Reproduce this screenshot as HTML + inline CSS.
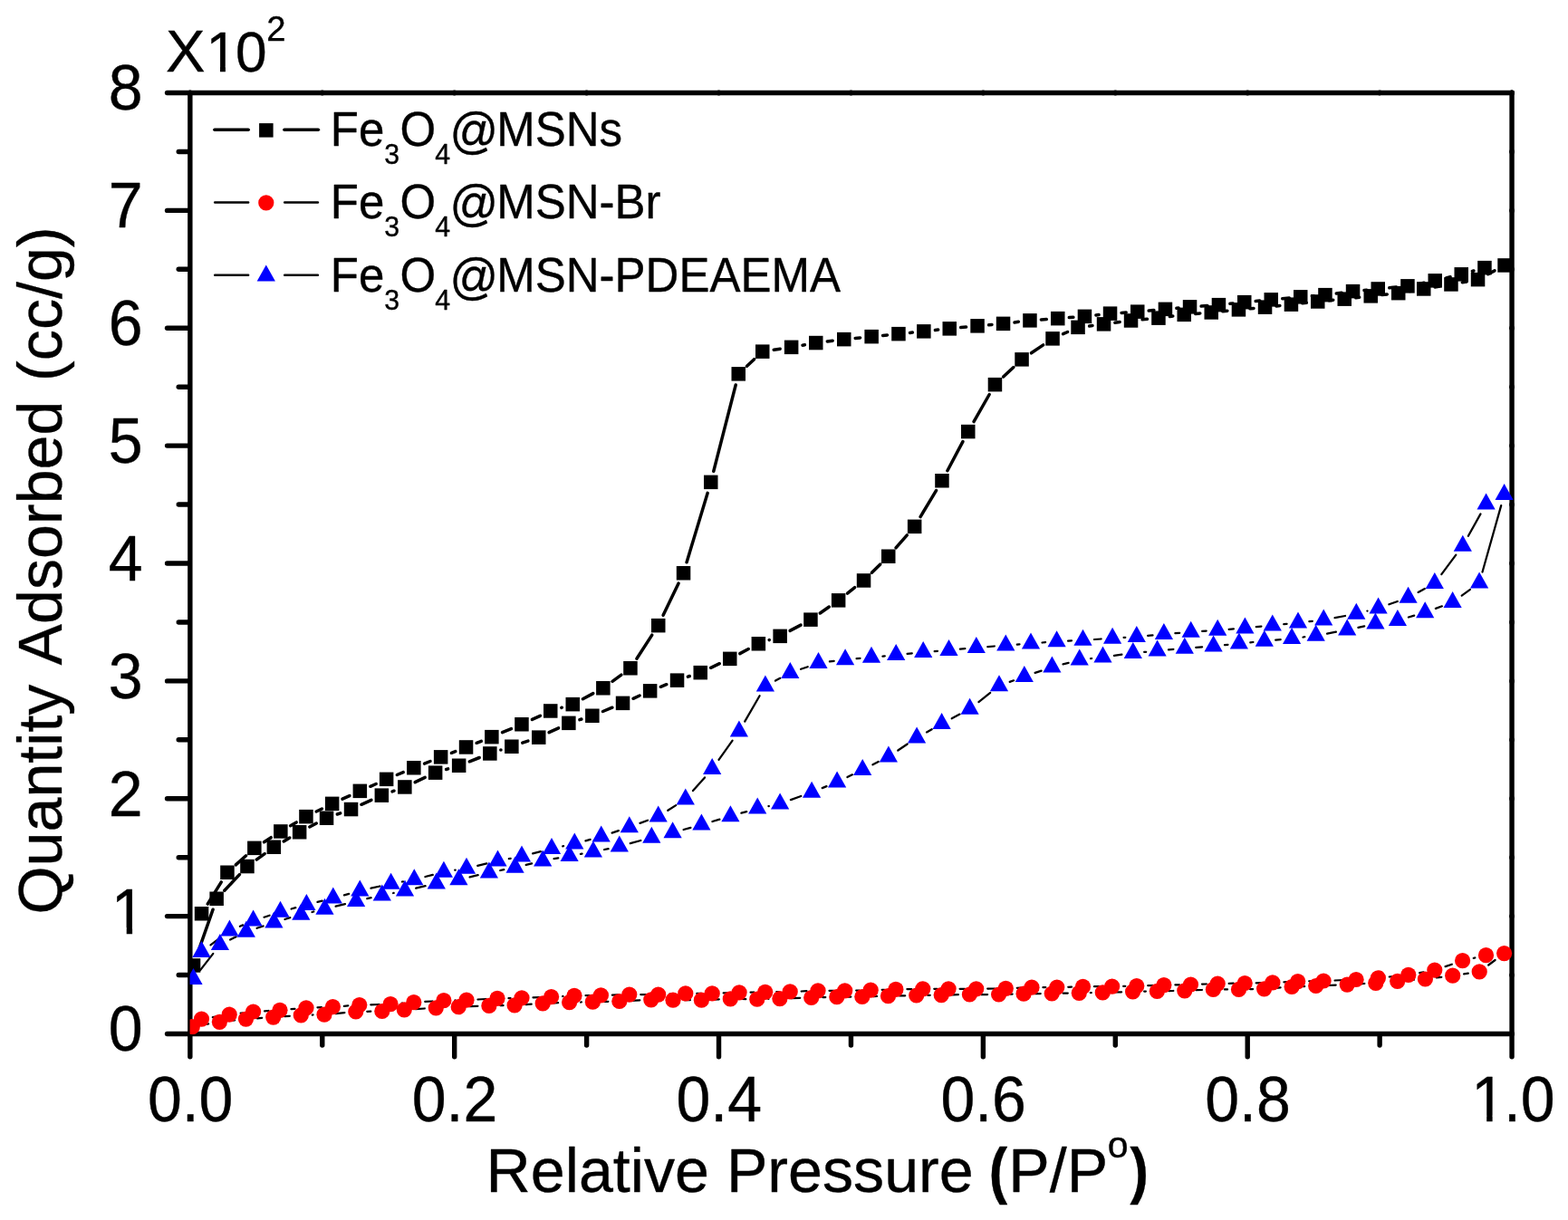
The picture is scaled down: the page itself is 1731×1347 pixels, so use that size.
<!DOCTYPE html>
<html lang="en"><head><meta charset="utf-8"><title>Nitrogen adsorption-desorption isotherms</title>
<style>html,body{margin:0;padding:0;background:#fff;}body{width:1731px;height:1347px;overflow:hidden;}svg{display:block;}text{font-family:"Liberation Sans", sans-serif;fill:#000;stroke:#000;stroke-width:0.35px;stroke-linejoin:round;}</style>
</head><body>
<svg width="1731" height="1347" viewBox="0 0 1731 1347">
<rect x="0" y="0" width="1731" height="1347" fill="#ffffff"/>
<g stroke="#000" stroke-width="5.40" fill="none" stroke-linecap="round">
<line x1="209.85" y1="102.50" x2="1669.05" y2="102.50"/>
<line x1="209.85" y1="1141.50" x2="1669.05" y2="1141.50"/>
<line x1="209.85" y1="102.50" x2="209.85" y2="1141.50"/>
<line x1="1669.05" y1="102.50" x2="1669.05" y2="1141.50"/>
<line x1="184.55" y1="1141.50" x2="208.85" y2="1141.50"/>
<line x1="197.25" y1="1076.56" x2="208.85" y2="1076.56"/>
<line x1="184.55" y1="1011.62" x2="208.85" y2="1011.62"/>
<line x1="197.25" y1="946.69" x2="208.85" y2="946.69"/>
<line x1="184.55" y1="881.75" x2="208.85" y2="881.75"/>
<line x1="197.25" y1="816.81" x2="208.85" y2="816.81"/>
<line x1="184.55" y1="751.88" x2="208.85" y2="751.88"/>
<line x1="197.25" y1="686.94" x2="208.85" y2="686.94"/>
<line x1="184.55" y1="622.00" x2="208.85" y2="622.00"/>
<line x1="197.25" y1="557.06" x2="208.85" y2="557.06"/>
<line x1="184.55" y1="492.12" x2="208.85" y2="492.12"/>
<line x1="197.25" y1="427.19" x2="208.85" y2="427.19"/>
<line x1="184.55" y1="362.25" x2="208.85" y2="362.25"/>
<line x1="197.25" y1="297.31" x2="208.85" y2="297.31"/>
<line x1="184.55" y1="232.38" x2="208.85" y2="232.38"/>
<line x1="197.25" y1="167.44" x2="208.85" y2="167.44"/>
<line x1="184.55" y1="102.50" x2="208.85" y2="102.50"/>
<line x1="209.85" y1="1142.50" x2="209.85" y2="1166.80"/>
<line x1="355.77" y1="1142.50" x2="355.77" y2="1154.10"/>
<line x1="501.69" y1="1142.50" x2="501.69" y2="1166.80"/>
<line x1="647.61" y1="1142.50" x2="647.61" y2="1154.10"/>
<line x1="793.53" y1="1142.50" x2="793.53" y2="1166.80"/>
<line x1="939.45" y1="1142.50" x2="939.45" y2="1154.10"/>
<line x1="1085.37" y1="1142.50" x2="1085.37" y2="1166.80"/>
<line x1="1231.29" y1="1142.50" x2="1231.29" y2="1154.10"/>
<line x1="1377.21" y1="1142.50" x2="1377.21" y2="1166.80"/>
<line x1="1523.13" y1="1142.50" x2="1523.13" y2="1154.10"/>
<line x1="1669.05" y1="1142.50" x2="1669.05" y2="1166.80"/>
</g>
<g fill="#000">
<circle cx="1669.05" cy="1141.50" r="2.90"/>
<circle cx="1669.05" cy="1076.56" r="2.90"/>
<circle cx="1669.05" cy="1011.62" r="2.90"/>
<circle cx="1669.05" cy="946.69" r="2.90"/>
<circle cx="1669.05" cy="881.75" r="2.90"/>
<circle cx="1669.05" cy="816.81" r="2.90"/>
<circle cx="1669.05" cy="751.88" r="2.90"/>
<circle cx="1669.05" cy="686.94" r="2.90"/>
<circle cx="1669.05" cy="622.00" r="2.90"/>
<circle cx="1669.05" cy="557.06" r="2.90"/>
<circle cx="1669.05" cy="492.12" r="2.90"/>
<circle cx="1669.05" cy="427.19" r="2.90"/>
<circle cx="1669.05" cy="362.25" r="2.90"/>
<circle cx="1669.05" cy="297.31" r="2.90"/>
<circle cx="1669.05" cy="232.38" r="2.90"/>
<circle cx="1669.05" cy="167.44" r="2.90"/>
<circle cx="1669.05" cy="102.50" r="2.90"/>
<circle cx="209.85" cy="102.50" r="2.90"/>
<circle cx="355.77" cy="102.50" r="2.90"/>
<circle cx="501.69" cy="102.50" r="2.90"/>
<circle cx="647.61" cy="102.50" r="2.90"/>
<circle cx="793.53" cy="102.50" r="2.90"/>
<circle cx="939.45" cy="102.50" r="2.90"/>
<circle cx="1085.37" cy="102.50" r="2.90"/>
<circle cx="1231.29" cy="102.50" r="2.90"/>
<circle cx="1377.21" cy="102.50" r="2.90"/>
<circle cx="1523.13" cy="102.50" r="2.90"/>
<circle cx="1669.05" cy="102.50" r="2.90"/>
</g>
<defs><clipPath id="plotclip"><rect x="209.60" y="100.00" width="1461.00" height="1042.30"/></clipPath></defs>
<g clip-path="url(#plotclip)">
<g stroke="#000" stroke-width="3.50" fill="none" stroke-linecap="round"><line x1="217.6" y1="1054.1" x2="235.1" y2="1004.2"/><line x1="247.8" y1="983.2" x2="264.4" y2="965.6"/><line x1="283.2" y1="949.1" x2="292.2" y2="942.6"/><line x1="313.2" y1="928.9" x2="319.8" y2="925.0"/><line x1="341.8" y1="913.0" x2="349.3" y2="909.0"/><line x1="372.3" y1="899.0" x2="375.7" y2="897.8"/><line x1="398.9" y1="888.3" x2="409.9" y2="883.3"/><line x1="433.1" y1="873.9" x2="435.0" y2="873.2"/><line x1="458.2" y1="863.7" x2="469.2" y2="858.4"/><line x1="492.6" y1="849.5" x2="494.6" y2="848.9"/><line x1="518.3" y1="840.8" x2="529.2" y2="836.5"/><line x1="552.8" y1="828.1" x2="553.0" y2="828.1"/><line x1="576.8" y1="820.2" x2="582.9" y2="818.1"/><line x1="606.1" y1="808.7" x2="616.6" y2="803.8"/><line x1="639.9" y1="794.7" x2="641.9" y2="794.0"/><line x1="665.5" y1="785.5" x2="675.9" y2="781.2"/><line x1="699.0" y1="771.3" x2="706.1" y2="768.0"/><line x1="729.3" y1="758.3" x2="735.8" y2="755.7"/><line x1="759.4" y1="747.2" x2="761.3" y2="746.5"/><line x1="784.6" y1="737.3" x2="794.3" y2="732.7"/><line x1="816.8" y1="721.6" x2="826.3" y2="716.5"/><line x1="849.2" y1="706.6" x2="849.3" y2="706.5"/><line x1="872.1" y1="696.4" x2="884.0" y2="690.1"/><line x1="905.3" y1="677.0" x2="915.3" y2="670.0"/><line x1="935.5" y1="655.2" x2="943.6" y2="648.7"/><line x1="962.4" y1="632.2" x2="971.8" y2="623.0"/><line x1="989.0" y1="604.8" x2="1001.3" y2="590.8"/><line x1="1016.1" y1="570.6" x2="1033.5" y2="541.6"/><line x1="1045.9" y1="519.7" x2="1062.9" y2="487.6"/><line x1="1075.0" y1="465.6" x2="1092.2" y2="435.5"/><line x1="1107.6" y1="416.0" x2="1118.9" y2="405.5"/><line x1="1138.5" y1="389.8" x2="1151.7" y2="380.9"/><line x1="1173.6" y1="368.7" x2="1178.6" y2="366.5"/><line x1="1202.6" y1="359.9" x2="1206.0" y2="359.4"/><line x1="1230.9" y1="356.3" x2="1236.2" y2="355.6"/><line x1="1261.1" y1="352.8" x2="1266.5" y2="352.3"/><line x1="1291.4" y1="349.5" x2="1294.8" y2="349.0"/><line x1="1319.7" y1="346.4" x2="1324.8" y2="346.0"/><line x1="1349.8" y1="343.7" x2="1354.9" y2="343.2"/><line x1="1379.9" y1="340.7" x2="1384.0" y2="340.4"/><line x1="1409.0" y1="337.9" x2="1412.9" y2="337.4"/><line x1="1437.9" y1="334.8" x2="1442.3" y2="334.3"/><line x1="1467.3" y1="331.8" x2="1471.8" y2="331.3"/><line x1="1496.8" y1="328.7" x2="1500.7" y2="328.3"/><line x1="1525.7" y1="325.6" x2="1531.3" y2="324.9"/><line x1="1556.2" y1="321.6" x2="1559.3" y2="321.0"/><line x1="1584.1" y1="317.0" x2="1589.6" y2="316.0"/><line x1="1614.3" y1="311.7" x2="1619.3" y2="310.9"/><line x1="1642.7" y1="302.7" x2="1650.0" y2="298.9"/><line x1="1626.9" y1="299.0" x2="1625.4" y2="299.5"/><line x1="1601.1" y1="305.8" x2="1596.5" y2="306.9"/><line x1="1572.0" y1="312.3" x2="1566.3" y2="313.5"/><line x1="1541.5" y1="317.1" x2="1533.8" y2="317.8"/><line x1="1508.8" y1="320.2" x2="1506.0" y2="320.5"/><line x1="1481.1" y1="323.3" x2="1475.3" y2="324.1"/><line x1="1450.4" y1="326.7" x2="1448.3" y2="326.8"/><line x1="1423.3" y1="329.0" x2="1415.7" y2="329.7"/><line x1="1390.7" y1="332.0" x2="1386.2" y2="332.5"/><line x1="1361.2" y1="335.0" x2="1357.9" y2="335.3"/><line x1="1332.9" y1="337.5" x2="1326.1" y2="338.0"/><line x1="1301.1" y1="339.9" x2="1298.9" y2="340.2"/><line x1="1273.9" y1="342.5" x2="1268.2" y2="343.0"/><line x1="1243.2" y1="345.0" x2="1238.1" y2="345.4"/><line x1="1213.1" y1="347.6" x2="1209.9" y2="347.9"/><line x1="1184.9" y1="350.3" x2="1180.3" y2="350.6"/><line x1="1155.3" y1="352.5" x2="1149.4" y2="352.9"/><line x1="1124.4" y1="355.3" x2="1120.0" y2="355.9"/><line x1="1095.0" y1="358.5" x2="1091.6" y2="358.8"/><line x1="1066.6" y1="361.1" x2="1060.7" y2="361.6"/><line x1="1035.7" y1="364.1" x2="1032.4" y2="364.5"/><line x1="1007.4" y1="367.1" x2="1004.5" y2="367.4"/><line x1="979.5" y1="370.0" x2="974.6" y2="370.4"/><line x1="949.6" y1="372.9" x2="944.2" y2="373.4"/><line x1="919.2" y1="376.2" x2="913.3" y2="376.9"/><line x1="888.4" y1="380.7" x2="886.0" y2="381.2"/><line x1="861.2" y1="385.2" x2="854.2" y2="386.3"/><line x1="832.6" y1="396.7" x2="824.5" y2="404.2"/><line x1="812.2" y1="425.0" x2="787.8" y2="520.2"/><line x1="781.1" y1="544.4" x2="758.1" y2="620.7"/><line x1="749.1" y1="644.0" x2="732.1" y2="679.3"/><line x1="719.8" y1="701.1" x2="702.9" y2="727.2"/><line x1="685.9" y1="745.1" x2="676.0" y2="752.3"/><line x1="654.8" y1="765.6" x2="643.4" y2="771.7"/><line x1="620.3" y1="781.2" x2="619.8" y2="781.4"/><line x1="596.4" y1="790.3" x2="587.4" y2="794.4"/><line x1="564.4" y1="804.6" x2="554.5" y2="808.7"/><line x1="531.3" y1="818.3" x2="526.1" y2="820.3"/><line x1="502.8" y1="829.6" x2="498.4" y2="831.3"/><line x1="475.0" y1="840.5" x2="468.5" y2="843.1"/><line x1="445.2" y1="852.6" x2="438.3" y2="855.5"/><line x1="415.2" y1="865.5" x2="408.8" y2="868.3"/><line x1="385.9" y1="878.6" x2="378.0" y2="882.2"/><line x1="355.4" y1="893.0" x2="349.2" y2="896.0"/><line x1="327.2" y1="907.9" x2="320.6" y2="911.7"/><line x1="299.2" y1="924.7" x2="291.5" y2="929.7"/><line x1="271.6" y1="944.8" x2="260.3" y2="954.9"/><line x1="244.3" y1="973.9" x2="229.2" y2="998.1"/></g>
<g fill="#000000"><rect x="205.8" y="1058.2" width="15.5" height="15.5"/><rect x="231.4" y="984.5" width="15.5" height="15.5"/><rect x="265.2" y="948.8" width="15.5" height="15.5"/><rect x="294.6" y="927.5" width="15.5" height="15.5"/><rect x="322.9" y="911.0" width="15.5" height="15.5"/><rect x="352.8" y="895.5" width="15.5" height="15.5"/><rect x="379.8" y="885.8" width="15.5" height="15.5"/><rect x="413.6" y="870.4" width="15.5" height="15.5"/><rect x="439.1" y="861.2" width="15.5" height="15.5"/><rect x="472.9" y="845.4" width="15.5" height="15.5"/><rect x="498.9" y="837.5" width="15.5" height="15.5"/><rect x="533.1" y="824.2" width="15.5" height="15.5"/><rect x="557.1" y="816.5" width="15.5" height="15.5"/><rect x="587.0" y="806.4" width="15.5" height="15.5"/><rect x="620.1" y="790.6" width="15.5" height="15.5"/><rect x="646.1" y="782.5" width="15.5" height="15.5"/><rect x="679.8" y="768.6" width="15.5" height="15.5"/><rect x="709.9" y="755.1" width="15.5" height="15.5"/><rect x="739.8" y="743.4" width="15.5" height="15.5"/><rect x="765.5" y="734.9" width="15.5" height="15.5"/><rect x="798.0" y="719.6" width="15.5" height="15.5"/><rect x="829.6" y="703.0" width="15.5" height="15.5"/><rect x="853.4" y="694.6" width="15.5" height="15.5"/><rect x="887.2" y="676.4" width="15.5" height="15.5"/><rect x="917.9" y="655.1" width="15.5" height="15.5"/><rect x="945.8" y="633.2" width="15.5" height="15.5"/><rect x="973.0" y="606.5" width="15.5" height="15.5"/><rect x="1001.9" y="573.6" width="15.5" height="15.5"/><rect x="1032.2" y="523.0" width="15.5" height="15.5"/><rect x="1061.0" y="468.8" width="15.5" height="15.5"/><rect x="1090.7" y="416.9" width="15.5" height="15.5"/><rect x="1120.3" y="389.1" width="15.5" height="15.5"/><rect x="1154.3" y="366.1" width="15.5" height="15.5"/><rect x="1182.3" y="353.6" width="15.5" height="15.5"/><rect x="1210.8" y="350.1" width="15.5" height="15.5"/><rect x="1240.8" y="346.2" width="15.5" height="15.5"/><rect x="1271.2" y="343.4" width="15.5" height="15.5"/><rect x="1299.5" y="339.6" width="15.5" height="15.5"/><rect x="1329.5" y="337.2" width="15.5" height="15.5"/><rect x="1359.7" y="334.1" width="15.5" height="15.5"/><rect x="1388.8" y="331.4" width="15.5" height="15.5"/><rect x="1417.7" y="328.4" width="15.5" height="15.5"/><rect x="1447.0" y="325.2" width="15.5" height="15.5"/><rect x="1476.5" y="322.4" width="15.5" height="15.5"/><rect x="1505.5" y="319.1" width="15.5" height="15.5"/><rect x="1536.0" y="315.9" width="15.5" height="15.5"/><rect x="1564.0" y="311.2" width="15.5" height="15.5"/><rect x="1594.2" y="306.2" width="15.5" height="15.5"/><rect x="1623.8" y="300.9" width="15.5" height="15.5"/><rect x="1653.3" y="285.2" width="15.5" height="15.5"/><rect x="1631.2" y="287.9" width="15.5" height="15.5"/><rect x="1605.5" y="295.1" width="15.5" height="15.5"/><rect x="1576.5" y="302.1" width="15.5" height="15.5"/><rect x="1546.2" y="308.1" width="15.5" height="15.5"/><rect x="1513.5" y="311.2" width="15.5" height="15.5"/><rect x="1485.8" y="313.9" width="15.5" height="15.5"/><rect x="1455.2" y="317.9" width="15.5" height="15.5"/><rect x="1428.0" y="320.1" width="15.5" height="15.5"/><rect x="1395.5" y="323.1" width="15.5" height="15.5"/><rect x="1366.0" y="325.9" width="15.5" height="15.5"/><rect x="1337.7" y="328.9" width="15.5" height="15.5"/><rect x="1305.8" y="331.1" width="15.5" height="15.5"/><rect x="1278.7" y="333.6" width="15.5" height="15.5"/><rect x="1248.0" y="336.4" width="15.5" height="15.5"/><rect x="1217.8" y="338.4" width="15.5" height="15.5"/><rect x="1189.7" y="341.6" width="15.5" height="15.5"/><rect x="1160.0" y="343.9" width="15.5" height="15.5"/><rect x="1129.2" y="346.1" width="15.5" height="15.5"/><rect x="1099.8" y="349.6" width="15.5" height="15.5"/><rect x="1071.3" y="352.1" width="15.5" height="15.5"/><rect x="1040.5" y="355.1" width="15.5" height="15.5"/><rect x="1012.1" y="358.1" width="15.5" height="15.5"/><rect x="984.2" y="360.9" width="15.5" height="15.5"/><rect x="954.4" y="363.9" width="15.5" height="15.5"/><rect x="924.0" y="366.9" width="15.5" height="15.5"/><rect x="893.0" y="370.8" width="15.5" height="15.5"/><rect x="865.9" y="375.6" width="15.5" height="15.5"/><rect x="834.0" y="380.4" width="15.5" height="15.5"/><rect x="807.5" y="405.1" width="15.5" height="15.5"/><rect x="777.0" y="524.6" width="15.5" height="15.5"/><rect x="746.8" y="625.0" width="15.5" height="15.5"/><rect x="719.0" y="682.9" width="15.5" height="15.5"/><rect x="688.2" y="730.0" width="15.5" height="15.5"/><rect x="658.1" y="752.0" width="15.5" height="15.5"/><rect x="624.5" y="769.9" width="15.5" height="15.5"/><rect x="600.0" y="777.2" width="15.5" height="15.5"/><rect x="568.2" y="792.0" width="15.5" height="15.5"/><rect x="535.1" y="805.9" width="15.5" height="15.5"/><rect x="506.8" y="817.2" width="15.5" height="15.5"/><rect x="478.9" y="828.1" width="15.5" height="15.5"/><rect x="449.1" y="840.0" width="15.5" height="15.5"/><rect x="418.9" y="852.6" width="15.5" height="15.5"/><rect x="389.6" y="865.6" width="15.5" height="15.5"/><rect x="358.9" y="879.6" width="15.5" height="15.5"/><rect x="330.2" y="893.9" width="15.5" height="15.5"/><rect x="302.1" y="910.2" width="15.5" height="15.5"/><rect x="273.1" y="928.6" width="15.5" height="15.5"/><rect x="243.2" y="955.5" width="15.5" height="15.5"/><rect x="214.8" y="1001.0" width="15.5" height="15.5"/></g>
<g stroke="#000" stroke-width="2.25" fill="none" stroke-linecap="round"><line x1="221.1" y1="1071.1" x2="235.3" y2="1052.9"/><line x1="254.1" y1="1037.5" x2="260.6" y2="1034.3"/><line x1="283.6" y1="1024.8" x2="290.6" y2="1022.5"/><line x1="314.4" y1="1015.0" x2="320.3" y2="1013.2"/><line x1="344.5" y1="1007.0" x2="346.3" y2="1006.5"/><line x1="370.6" y1="1000.7" x2="381.0" y2="998.1"/><line x1="405.3" y1="992.2" x2="409.6" y2="991.2"/><line x1="434.1" y1="986.0" x2="434.7" y2="985.9"/><line x1="459.2" y1="980.7" x2="469.6" y2="978.2"/><line x1="518.6" y1="968.4" x2="527.7" y2="966.2"/><line x1="552.2" y1="961.0" x2="556.3" y2="960.2"/><line x1="580.7" y1="954.9" x2="587.1" y2="953.3"/><line x1="611.5" y1="948.1" x2="616.3" y2="947.3"/><line x1="640.9" y1="942.9" x2="642.6" y2="942.7"/><line x1="667.1" y1="938.0" x2="671.6" y2="937.1"/><line x1="695.8" y1="931.2" x2="707.3" y2="928.0"/><line x1="754.6" y1="916.0" x2="762.4" y2="913.8"/><line x1="786.4" y1="907.0" x2="794.4" y2="904.7"/><line x1="818.4" y1="897.7" x2="824.2" y2="896.1"/><line x1="848.4" y1="890.0" x2="848.9" y2="890.0"/><line x1="872.9" y1="883.1" x2="884.3" y2="879.0"/><line x1="907.7" y1="870.1" x2="912.5" y2="868.1"/><line x1="935.4" y1="858.1" x2="940.9" y2="855.3"/><line x1="963.4" y1="844.3" x2="969.7" y2="841.0"/><line x1="991.3" y1="828.5" x2="1001.7" y2="821.5"/><line x1="1023.0" y1="808.4" x2="1028.7" y2="805.2"/><line x1="1050.7" y1="793.2" x2="1059.5" y2="788.6"/><line x1="1080.4" y1="775.1" x2="1093.2" y2="764.9"/><line x1="1114.7" y1="752.9" x2="1119.1" y2="751.3"/><line x1="1142.6" y1="742.9" x2="1149.6" y2="740.6"/><line x1="1173.5" y1="733.3" x2="1179.6" y2="731.8"/><line x1="1204.1" y1="727.1" x2="1205.1" y2="727.0"/><line x1="1229.9" y1="723.9" x2="1238.4" y2="722.7"/><line x1="1263.2" y1="719.9" x2="1265.2" y2="719.8"/><line x1="1290.0" y1="717.4" x2="1295.4" y2="716.9"/><line x1="1320.3" y1="714.9" x2="1327.1" y2="714.4"/><line x1="1352.0" y1="712.2" x2="1355.5" y2="711.9"/><line x1="1380.3" y1="709.3" x2="1383.4" y2="709.0"/><line x1="1408.2" y1="706.6" x2="1413.7" y2="706.1"/><line x1="1438.5" y1="703.5" x2="1440.3" y2="703.2"/><line x1="1465.0" y1="699.6" x2="1474.9" y2="697.7"/><line x1="1499.4" y1="692.8" x2="1506.2" y2="691.3"/><line x1="1554.9" y1="681.5" x2="1561.2" y2="679.6"/><line x1="1584.9" y1="671.9" x2="1591.9" y2="669.3"/><line x1="1613.7" y1="657.6" x2="1623.0" y2="650.9"/><line x1="1636.5" y1="631.5" x2="1657.2" y2="558.1"/><line x1="1634.5" y1="567.4" x2="1620.9" y2="591.8"/><line x1="1607.3" y1="612.7" x2="1591.3" y2="634.1"/><line x1="1572.8" y1="650.0" x2="1565.6" y2="653.9"/><line x1="1542.8" y1="664.0" x2="1533.4" y2="667.3"/><line x1="1509.5" y1="674.6" x2="1509.4" y2="674.6"/><line x1="1485.0" y1="680.0" x2="1473.5" y2="682.1"/><line x1="1448.8" y1="685.8" x2="1445.4" y2="686.1"/><line x1="1420.6" y1="688.8" x2="1417.2" y2="689.2"/><line x1="1392.4" y1="691.7" x2="1386.8" y2="692.2"/><line x1="1361.9" y1="694.3" x2="1356.7" y2="694.8"/><line x1="1331.7" y1="696.6" x2="1327.2" y2="696.9"/><line x1="1302.2" y1="698.8" x2="1297.4" y2="699.1"/><line x1="1272.5" y1="701.3" x2="1267.2" y2="701.8"/><line x1="1242.3" y1="703.8" x2="1240.6" y2="703.9"/><line x1="1215.6" y1="705.5" x2="1208.0" y2="706.0"/><line x1="1183.0" y1="707.4" x2="1179.1" y2="707.6"/><line x1="1154.1" y1="709.2" x2="1150.5" y2="709.5"/><line x1="1125.5" y1="711.4" x2="1122.8" y2="711.7"/><line x1="1097.8" y1="713.5" x2="1090.3" y2="714.1"/><line x1="1065.4" y1="716.2" x2="1059.9" y2="716.7"/><line x1="1035.0" y1="718.8" x2="1031.7" y2="719.1"/><line x1="1006.8" y1="721.3" x2="1001.6" y2="721.8"/><line x1="976.8" y1="724.3" x2="974.4" y2="724.6"/><line x1="949.5" y1="726.9" x2="945.6" y2="727.2"/><line x1="920.7" y1="729.9" x2="915.9" y2="730.4"/><line x1="891.7" y1="736.2" x2="884.1" y2="738.8"/><line x1="861.2" y1="748.8" x2="856.0" y2="751.6"/><line x1="838.6" y1="768.2" x2="822.2" y2="796.6"/><line x1="808.6" y1="817.6" x2="793.5" y2="838.8"/><line x1="778.0" y1="858.4" x2="765.0" y2="873.1"/><line x1="746.2" y1="889.1" x2="737.3" y2="894.8"/><line x1="715.0" y1="905.7" x2="706.5" y2="908.9"/><line x1="682.9" y1="917.1" x2="675.6" y2="919.6"/><line x1="651.6" y1="926.8" x2="646.4" y2="928.3"/><line x1="622.1" y1="934.2" x2="621.2" y2="934.3"/><line x1="596.9" y1="940.1" x2="588.1" y2="942.3"/><line x1="563.7" y1="947.8" x2="561.8" y2="948.1"/><line x1="537.3" y1="953.3" x2="527.2" y2="955.8"/><line x1="502.7" y1="960.7" x2="502.2" y2="960.7"/><line x1="477.8" y1="965.9" x2="469.4" y2="968.0"/><line x1="445.0" y1="973.4" x2="443.9" y2="973.5"/><line x1="419.4" y1="978.5" x2="409.5" y2="980.7"/><line x1="385.2" y1="986.8" x2="379.9" y2="988.3"/><line x1="355.7" y1="994.6" x2="350.5" y2="995.9"/><line x1="326.3" y1="1002.2" x2="321.6" y2="1003.5"/><line x1="297.6" y1="1010.7" x2="291.5" y2="1012.7"/><line x1="268.1" y1="1021.4" x2="264.9" y2="1022.8"/><line x1="243.4" y1="1035.1" x2="232.5" y2="1043.4"/></g>
<g fill="#0000ff"><polygon points="213.5,1069.0 203.4,1087.0 223.6,1087.0"/><polygon points="242.9,1031.0 232.8,1049.0 253.0,1049.0"/><polygon points="271.8,1016.8 261.7,1034.8 281.9,1034.8"/><polygon points="302.4,1006.5 292.3,1024.5 312.5,1024.5"/><polygon points="332.3,997.7 322.2,1015.7 342.4,1015.7"/><polygon points="358.5,991.8 348.4,1009.8 368.6,1009.8"/><polygon points="393.1,983.0 383.0,1001.0 403.2,1001.0"/><polygon points="421.8,976.4 411.7,994.4 431.9,994.4"/><polygon points="447.0,971.5 436.9,989.5 457.1,989.5"/><polygon points="481.8,963.4 471.7,981.4 491.9,981.4"/><polygon points="506.4,959.2 496.3,977.2 516.5,977.2"/><polygon points="539.9,951.4 529.8,969.4 550.0,969.4"/><polygon points="568.6,945.8 558.5,963.8 578.7,963.8"/><polygon points="599.2,938.4 589.1,956.4 609.3,956.4"/><polygon points="628.6,933.0 618.5,951.0 638.7,951.0"/><polygon points="654.9,928.6 644.8,946.6 665.0,946.6"/><polygon points="683.8,922.5 673.7,940.5 693.9,940.5"/><polygon points="719.3,912.7 709.2,930.7 729.4,930.7"/><polygon points="742.6,907.3 732.5,925.3 752.7,925.3"/><polygon points="774.4,898.5 764.3,916.5 784.5,916.5"/><polygon points="806.4,889.2 796.3,907.2 816.5,907.2"/><polygon points="836.2,880.6 826.1,898.6 846.3,898.6"/><polygon points="861.1,875.4 851.0,893.4 871.2,893.4"/><polygon points="896.1,862.7 886.0,880.7 906.2,880.7"/><polygon points="924.1,851.5 914.0,869.5 934.2,869.5"/><polygon points="952.2,837.9 942.1,855.9 962.3,855.9"/><polygon points="980.9,823.4 970.8,841.4 991.0,841.4"/><polygon points="1012.1,802.6 1002.0,820.6 1022.2,820.6"/><polygon points="1039.6,787.0 1029.5,805.0 1049.7,805.0"/><polygon points="1070.6,770.8 1060.5,788.8 1080.7,788.8"/><polygon points="1103.0,745.2 1092.9,763.2 1113.1,763.2"/><polygon points="1130.8,735.0 1120.7,753.0 1140.9,753.0"/><polygon points="1161.4,724.5 1151.3,742.5 1171.5,742.5"/><polygon points="1191.7,716.6 1181.6,734.6 1201.8,734.6"/><polygon points="1217.5,713.5 1207.4,731.5 1227.6,731.5"/><polygon points="1250.8,709.1 1240.7,727.1 1260.9,727.1"/><polygon points="1277.6,706.6 1267.5,724.6 1287.7,724.6"/><polygon points="1307.8,703.7 1297.7,721.7 1317.9,721.7"/><polygon points="1339.6,701.6 1329.5,719.6 1349.7,719.6"/><polygon points="1367.9,698.5 1357.8,716.5 1378.0,716.5"/><polygon points="1395.8,695.8 1385.7,713.8 1405.9,713.8"/><polygon points="1426.1,692.9 1416.0,710.9 1436.2,710.9"/><polygon points="1452.7,689.8 1442.6,707.8 1462.8,707.8"/><polygon points="1487.2,683.5 1477.1,701.5 1497.3,701.5"/><polygon points="1518.4,676.6 1508.3,694.6 1528.5,694.6"/><polygon points="1542.9,672.9 1532.8,690.9 1553.0,690.9"/><polygon points="1573.2,664.2 1563.1,682.2 1583.3,682.2"/><polygon points="1603.6,653.0 1593.5,671.0 1613.7,671.0"/><polygon points="1633.1,631.5 1623.0,649.5 1643.2,649.5"/><polygon points="1660.6,534.1 1650.5,552.1 1670.7,552.1"/><polygon points="1640.6,544.5 1630.5,562.5 1650.7,562.5"/><polygon points="1614.8,590.7 1604.7,608.7 1624.9,608.7"/><polygon points="1583.8,632.1 1573.7,650.1 1593.9,650.1"/><polygon points="1554.6,647.8 1544.5,665.8 1564.7,665.8"/><polygon points="1521.6,659.5 1511.5,677.5 1531.7,677.5"/><polygon points="1497.3,665.7 1487.2,683.7 1507.4,683.7"/><polygon points="1461.2,672.4 1451.1,690.4 1471.3,690.4"/><polygon points="1433.0,675.5 1422.9,693.5 1443.1,693.5"/><polygon points="1404.8,678.5 1394.7,696.5 1414.9,696.5"/><polygon points="1374.4,681.4 1364.3,699.4 1384.5,699.4"/><polygon points="1344.2,683.7 1334.1,701.7 1354.3,701.7"/><polygon points="1314.7,685.8 1304.6,703.8 1324.8,703.8"/><polygon points="1284.9,688.1 1274.8,706.1 1295.0,706.1"/><polygon points="1254.8,691.0 1244.7,709.0 1264.9,709.0"/><polygon points="1228.1,692.7 1218.0,710.7 1238.2,710.7"/><polygon points="1195.5,694.8 1185.4,712.8 1205.6,712.8"/><polygon points="1166.6,696.2 1156.5,714.2 1176.7,714.2"/><polygon points="1138.0,698.5 1127.9,716.5 1148.1,716.5"/><polygon points="1110.3,700.6 1100.2,718.6 1120.4,718.6"/><polygon points="1077.8,703.0 1067.7,721.0 1087.9,721.0"/><polygon points="1047.5,705.9 1037.4,723.9 1057.6,723.9"/><polygon points="1019.2,708.0 1009.1,726.0 1029.3,726.0"/><polygon points="989.2,711.1 979.1,729.1 999.3,729.1"/><polygon points="962.0,713.8 951.9,731.8 972.1,731.8"/><polygon points="933.1,716.3 923.0,734.3 943.2,734.3"/><polygon points="903.5,720.0 893.4,738.0 913.6,738.0"/><polygon points="872.3,731.0 862.2,749.0 882.4,749.0"/><polygon points="844.9,745.4 834.8,763.4 855.0,763.4"/><polygon points="815.9,795.4 805.8,813.4 826.0,813.4"/><polygon points="786.2,837.0 776.1,855.0 796.3,855.0"/><polygon points="756.8,870.5 746.7,888.5 766.9,888.5"/><polygon points="726.7,889.4 716.6,907.4 736.8,907.4"/><polygon points="694.8,901.2 684.7,919.2 704.9,919.2"/><polygon points="663.7,911.5 653.6,929.5 673.8,929.5"/><polygon points="634.3,919.6 624.2,937.6 644.4,937.6"/><polygon points="609.0,924.9 598.9,942.9 619.1,942.9"/><polygon points="576.0,933.5 565.9,951.5 586.1,951.5"/><polygon points="549.5,938.4 539.4,956.4 559.6,956.4"/><polygon points="515.0,946.7 504.9,964.7 525.1,964.7"/><polygon points="489.9,950.7 479.8,968.7 500.0,968.7"/><polygon points="457.3,959.2 447.2,977.2 467.4,977.2"/><polygon points="431.6,963.7 421.5,981.7 441.7,981.7"/><polygon points="397.3,971.5 387.2,989.5 407.4,989.5"/><polygon points="367.8,979.6 357.7,997.6 377.9,997.6"/><polygon points="338.4,986.9 328.3,1004.9 348.5,1004.9"/><polygon points="309.5,994.8 299.4,1012.8 319.6,1012.8"/><polygon points="279.6,1004.6 269.5,1022.6 289.7,1022.6"/><polygon points="253.4,1015.6 243.3,1033.6 263.5,1033.6"/><polygon points="222.5,1038.9 212.4,1056.9 232.6,1056.9"/></g>
<g stroke="#000" stroke-width="2.25" fill="none" stroke-linecap="round"><line x1="224.6" y1="1131.4" x2="230.1" y2="1130.5"/><line x1="254.8" y1="1126.9" x2="259.1" y2="1126.5"/><line x1="284.0" y1="1124.3" x2="289.2" y2="1123.9"/><line x1="314.2" y1="1122.2" x2="319.8" y2="1121.8"/><line x1="344.8" y1="1120.6" x2="345.5" y2="1120.5"/><line x1="370.4" y1="1119.1" x2="380.4" y2="1118.1"/><line x1="405.3" y1="1116.8" x2="409.3" y2="1116.7"/><line x1="458.8" y1="1114.1" x2="468.8" y2="1113.5"/><line x1="518.7" y1="1111.2" x2="527.4" y2="1110.9"/><line x1="552.4" y1="1110.2" x2="555.6" y2="1110.1"/><line x1="580.6" y1="1109.1" x2="586.7" y2="1108.7"/><line x1="611.7" y1="1107.4" x2="616.1" y2="1107.2"/><line x1="641.1" y1="1106.5" x2="641.9" y2="1106.4"/><line x1="666.9" y1="1105.9" x2="671.3" y2="1105.8"/><line x1="696.3" y1="1104.9" x2="706.3" y2="1104.4"/><line x1="755.5" y1="1104.2" x2="761.9" y2="1104.2"/><line x1="786.9" y1="1103.7" x2="793.8" y2="1103.4"/><line x1="818.8" y1="1103.0" x2="823.3" y2="1103.1"/><line x1="848.3" y1="1102.9" x2="848.4" y2="1102.9"/><line x1="873.4" y1="1102.2" x2="883.2" y2="1101.9"/><line x1="908.2" y1="1101.1" x2="911.3" y2="1101.1"/><line x1="936.3" y1="1100.6" x2="939.3" y2="1100.6"/><line x1="964.3" y1="1100.2" x2="968.0" y2="1100.0"/><line x1="993.0" y1="1099.4" x2="999.2" y2="1099.3"/><line x1="1024.2" y1="1098.8" x2="1026.7" y2="1098.8"/><line x1="1051.7" y1="1098.4" x2="1057.9" y2="1098.2"/><line x1="1082.9" y1="1098.0" x2="1090.1" y2="1098.0"/><line x1="1115.1" y1="1097.6" x2="1117.6" y2="1097.6"/><line x1="1142.6" y1="1097.1" x2="1148.7" y2="1097.1"/><line x1="1173.7" y1="1096.7" x2="1178.8" y2="1096.6"/><line x1="1203.8" y1="1096.1" x2="1204.8" y2="1096.1"/><line x1="1229.8" y1="1095.5" x2="1238.1" y2="1095.3"/><line x1="1263.1" y1="1094.6" x2="1264.9" y2="1094.6"/><line x1="1289.9" y1="1094.1" x2="1295.3" y2="1094.0"/><line x1="1320.3" y1="1093.2" x2="1326.9" y2="1093.0"/><line x1="1351.9" y1="1092.4" x2="1355.0" y2="1092.4"/><line x1="1380.0" y1="1092.1" x2="1383.1" y2="1092.1"/><line x1="1408.1" y1="1090.9" x2="1413.6" y2="1090.4"/><line x1="1438.6" y1="1089.0" x2="1440.2" y2="1089.0"/><line x1="1465.2" y1="1088.0" x2="1474.7" y2="1087.6"/><line x1="1499.7" y1="1086.4" x2="1506.3" y2="1086.0"/><line x1="1555.2" y1="1082.4" x2="1560.9" y2="1081.9"/><line x1="1585.8" y1="1079.4" x2="1591.3" y2="1078.8"/><line x1="1616.1" y1="1075.4" x2="1620.8" y2="1074.7"/><line x1="1643.2" y1="1065.5" x2="1650.6" y2="1060.0"/><line x1="1628.3" y1="1057.5" x2="1626.8" y2="1057.9"/><line x1="1602.8" y1="1064.7" x2="1595.6" y2="1067.1"/><line x1="1571.5" y1="1073.3" x2="1567.1" y2="1074.1"/><line x1="1542.4" y1="1077.6" x2="1533.8" y2="1078.5"/><line x1="1484.6" y1="1082.0" x2="1473.6" y2="1082.5"/><line x1="1448.6" y1="1083.3" x2="1445.2" y2="1083.3"/><line x1="1420.2" y1="1084.2" x2="1417.4" y2="1084.3"/><line x1="1392.4" y1="1085.1" x2="1386.7" y2="1085.3"/><line x1="1361.7" y1="1085.7" x2="1356.7" y2="1085.9"/><line x1="1331.7" y1="1086.5" x2="1327.0" y2="1086.6"/><line x1="1302.0" y1="1087.3" x2="1297.4" y2="1087.3"/><line x1="1272.4" y1="1088.0" x2="1267.3" y2="1088.2"/><line x1="1242.3" y1="1088.8" x2="1240.2" y2="1088.9"/><line x1="1215.2" y1="1089.2" x2="1208.0" y2="1089.2"/><line x1="1183.0" y1="1089.6" x2="1179.3" y2="1089.8"/><line x1="1154.3" y1="1090.1" x2="1151.5" y2="1090.2"/><line x1="1126.5" y1="1090.7" x2="1122.8" y2="1090.8"/><line x1="1097.8" y1="1091.5" x2="1090.2" y2="1091.6"/><line x1="1065.2" y1="1091.8" x2="1059.6" y2="1091.8"/><line x1="1034.6" y1="1091.8" x2="1031.3" y2="1091.8"/><line x1="1006.3" y1="1092.1" x2="1001.4" y2="1092.1"/><line x1="976.4" y1="1092.8" x2="973.7" y2="1092.8"/><line x1="948.7" y1="1093.5" x2="945.2" y2="1093.5"/><line x1="920.2" y1="1093.8" x2="915.5" y2="1093.8"/><line x1="890.5" y1="1094.2" x2="884.7" y2="1094.5"/><line x1="859.7" y1="1095.1" x2="857.2" y2="1095.1"/><line x1="832.2" y1="1095.5" x2="828.6" y2="1095.6"/><line x1="803.6" y1="1096.3" x2="798.7" y2="1096.4"/><line x1="773.7" y1="1096.9" x2="769.3" y2="1096.9"/><line x1="744.3" y1="1097.4" x2="739.2" y2="1097.6"/><line x1="714.2" y1="1098.1" x2="707.3" y2="1098.1"/><line x1="682.3" y1="1098.4" x2="675.9" y2="1098.6"/><line x1="650.9" y1="1099.1" x2="646.5" y2="1099.1"/><line x1="621.5" y1="1099.9" x2="621.1" y2="1100.0"/><line x1="596.1" y1="1101.1" x2="588.5" y2="1101.3"/><line x1="563.5" y1="1102.0" x2="561.5" y2="1102.1"/><line x1="536.5" y1="1103.0" x2="527.5" y2="1103.5"/><line x1="502.5" y1="1104.4" x2="502.4" y2="1104.5"/><line x1="477.4" y1="1105.5" x2="469.3" y2="1105.9"/><line x1="444.3" y1="1107.7" x2="443.6" y2="1107.7"/><line x1="418.6" y1="1109.0" x2="409.3" y2="1109.3"/><line x1="384.3" y1="1110.4" x2="379.9" y2="1110.8"/><line x1="354.9" y1="1112.1" x2="350.5" y2="1112.3"/><line x1="325.5" y1="1113.9" x2="321.5" y2="1114.2"/><line x1="296.5" y1="1116.0" x2="292.1" y2="1116.3"/><line x1="267.2" y1="1118.5" x2="265.6" y2="1118.7"/><line x1="240.9" y1="1122.2" x2="234.8" y2="1123.1"/></g>
<g fill="#ff0000"><circle cx="212.3" cy="1133.6" r="8.6"/><circle cx="242.4" cy="1128.3" r="8.6"/><circle cx="271.5" cy="1125.1" r="8.6"/><circle cx="301.7" cy="1123.1" r="8.6"/><circle cx="332.3" cy="1120.9" r="8.6"/><circle cx="358.0" cy="1120.2" r="8.6"/><circle cx="392.8" cy="1117.0" r="8.6"/><circle cx="421.8" cy="1116.5" r="8.6"/><circle cx="446.3" cy="1114.8" r="8.6"/><circle cx="481.3" cy="1112.8" r="8.6"/><circle cx="506.2" cy="1111.7" r="8.6"/><circle cx="539.9" cy="1110.4" r="8.6"/><circle cx="568.1" cy="1109.9" r="8.6"/><circle cx="599.2" cy="1107.9" r="8.6"/><circle cx="628.6" cy="1106.7" r="8.6"/><circle cx="654.4" cy="1106.2" r="8.6"/><circle cx="683.8" cy="1105.5" r="8.6"/><circle cx="718.8" cy="1103.8" r="8.6"/><circle cx="743.0" cy="1104.2" r="8.6"/><circle cx="774.4" cy="1104.2" r="8.6"/><circle cx="806.3" cy="1102.9" r="8.6"/><circle cx="835.8" cy="1103.2" r="8.6"/><circle cx="860.9" cy="1102.6" r="8.6"/><circle cx="895.7" cy="1101.5" r="8.6"/><circle cx="923.8" cy="1100.7" r="8.6"/><circle cx="951.8" cy="1100.5" r="8.6"/><circle cx="980.5" cy="1099.7" r="8.6"/><circle cx="1011.7" cy="1099.0" r="8.6"/><circle cx="1039.2" cy="1098.6" r="8.6"/><circle cx="1070.4" cy="1098.0" r="8.6"/><circle cx="1102.6" cy="1098.0" r="8.6"/><circle cx="1130.1" cy="1097.2" r="8.6"/><circle cx="1161.2" cy="1097.0" r="8.6"/><circle cx="1191.3" cy="1096.3" r="8.6"/><circle cx="1217.3" cy="1095.9" r="8.6"/><circle cx="1250.6" cy="1094.9" r="8.6"/><circle cx="1277.4" cy="1094.3" r="8.6"/><circle cx="1307.8" cy="1093.8" r="8.6"/><circle cx="1339.4" cy="1092.4" r="8.6"/><circle cx="1367.5" cy="1092.4" r="8.6"/><circle cx="1395.6" cy="1091.8" r="8.6"/><circle cx="1426.1" cy="1089.5" r="8.6"/><circle cx="1452.7" cy="1088.5" r="8.6"/><circle cx="1487.2" cy="1087.1" r="8.6"/><circle cx="1518.8" cy="1085.3" r="8.6"/><circle cx="1542.7" cy="1083.3" r="8.6"/><circle cx="1573.4" cy="1081.0" r="8.6"/><circle cx="1603.7" cy="1077.2" r="8.6"/><circle cx="1633.2" cy="1072.9" r="8.6"/><circle cx="1660.6" cy="1052.6" r="8.6"/><circle cx="1640.5" cy="1054.7" r="8.6"/><circle cx="1614.6" cy="1060.7" r="8.6"/><circle cx="1583.8" cy="1071.1" r="8.6"/><circle cx="1554.8" cy="1076.3" r="8.6"/><circle cx="1521.4" cy="1079.8" r="8.6"/><circle cx="1497.1" cy="1081.5" r="8.6"/><circle cx="1461.1" cy="1083.0" r="8.6"/><circle cx="1432.7" cy="1083.6" r="8.6"/><circle cx="1404.9" cy="1084.9" r="8.6"/><circle cx="1374.2" cy="1085.5" r="8.6"/><circle cx="1344.2" cy="1086.1" r="8.6"/><circle cx="1314.5" cy="1087.0" r="8.6"/><circle cx="1284.9" cy="1087.6" r="8.6"/><circle cx="1254.8" cy="1088.6" r="8.6"/><circle cx="1227.7" cy="1089.1" r="8.6"/><circle cx="1195.5" cy="1089.3" r="8.6"/><circle cx="1166.8" cy="1090.1" r="8.6"/><circle cx="1139.0" cy="1090.2" r="8.6"/><circle cx="1110.3" cy="1091.3" r="8.6"/><circle cx="1077.7" cy="1091.8" r="8.6"/><circle cx="1047.1" cy="1091.8" r="8.6"/><circle cx="1018.8" cy="1091.8" r="8.6"/><circle cx="988.9" cy="1092.4" r="8.6"/><circle cx="961.2" cy="1093.2" r="8.6"/><circle cx="932.7" cy="1093.8" r="8.6"/><circle cx="903.0" cy="1093.8" r="8.6"/><circle cx="872.2" cy="1094.9" r="8.6"/><circle cx="844.7" cy="1095.3" r="8.6"/><circle cx="816.1" cy="1095.8" r="8.6"/><circle cx="786.2" cy="1096.9" r="8.6"/><circle cx="756.8" cy="1096.9" r="8.6"/><circle cx="726.7" cy="1098.1" r="8.6"/><circle cx="694.8" cy="1098.1" r="8.6"/><circle cx="663.4" cy="1098.9" r="8.6"/><circle cx="634.0" cy="1099.3" r="8.6"/><circle cx="608.6" cy="1100.6" r="8.6"/><circle cx="576.0" cy="1101.8" r="8.6"/><circle cx="549.0" cy="1102.3" r="8.6"/><circle cx="515.0" cy="1104.2" r="8.6"/><circle cx="489.9" cy="1104.7" r="8.6"/><circle cx="456.8" cy="1106.7" r="8.6"/><circle cx="431.1" cy="1108.7" r="8.6"/><circle cx="396.8" cy="1109.6" r="8.6"/><circle cx="367.4" cy="1111.6" r="8.6"/><circle cx="338.0" cy="1112.8" r="8.6"/><circle cx="309.0" cy="1115.3" r="8.6"/><circle cx="279.6" cy="1117.0" r="8.6"/><circle cx="253.2" cy="1120.2" r="8.6"/><circle cx="222.5" cy="1125.1" r="8.6"/></g>
</g>
<g id="y-tick-labels">
<text transform="scale(1,1.028)"><tspan x="119.80" y="1128.89" font-size="68.00">0</tspan></text>
<text transform="scale(1,1.028)"><tspan x="122.80" y="1002.55" font-size="68.00">1</tspan></text><rect x="126.50" y="1024.38" width="13.20" height="7.74" fill="#fff"/><rect x="146.10" y="1024.38" width="12.90" height="7.74" fill="#fff"/>
<text transform="scale(1,1.028)"><tspan x="119.80" y="876.22" font-size="68.00">2</tspan></text>
<text transform="scale(1,1.028)"><tspan x="119.80" y="749.88" font-size="68.00">3</tspan></text>
<text transform="scale(1,1.028)"><tspan x="119.80" y="623.54" font-size="68.00">4</tspan></text>
<text transform="scale(1,1.028)"><tspan x="119.80" y="497.20" font-size="68.00">5</tspan></text>
<text transform="scale(1,1.028)"><tspan x="119.80" y="370.87" font-size="68.00">6</tspan></text>
<text transform="scale(1,1.028)"><tspan x="119.80" y="244.53" font-size="68.00">7</tspan></text>
<text transform="scale(1,1.028)"><tspan x="119.80" y="118.19" font-size="68.00">8</tspan></text>
</g>
<g id="x-tick-labels">
<text transform="scale(1,1.028)"><tspan x="162.88" y="1204.28" font-size="68.00">0.0</tspan></text>
<text transform="scale(1,1.028)"><tspan x="454.72" y="1204.28" font-size="68.00">0.2</tspan></text>
<text transform="scale(1,1.028)"><tspan x="746.56" y="1204.28" font-size="68.00">0.4</tspan></text>
<text transform="scale(1,1.028)"><tspan x="1038.40" y="1204.28" font-size="68.00">0.6</tspan></text>
<text transform="scale(1,1.028)"><tspan x="1330.24" y="1204.28" font-size="68.00">0.8</tspan></text>
<text transform="scale(1,1.028)"><tspan x="1624.30" y="1204.28" font-size="68.00">1</tspan><tspan x="1659.91" y="1204.28" font-size="68.00">.0</tspan></text><rect x="1628.00" y="1231.76" width="13.20" height="7.74" fill="#fff"/><rect x="1647.60" y="1231.76" width="12.90" height="7.74" fill="#fff"/>
</g>
<text transform="scale(1,1.005)"><tspan x="183.00" y="78.51" font-size="65.30">X</tspan><tspan x="227.57" y="78.51" font-size="62.20">1</tspan><tspan x="260.10" y="78.51" font-size="62.20">0</tspan><tspan x="294.20" y="44.88" font-size="38.30">2</tspan></text><rect x="230.83" y="73.21" width="12.19" height="7.19" fill="#fff"/><rect x="248.90" y="73.21" width="11.93" height="7.19" fill="#fff"/>
<text font-size="68.20"><tspan x="536.60" y="1316.20">Relative Pressure </tspan><tspan x="1091.70" y="1316.20" font-weight="bold" textLength="20.40" lengthAdjust="spacingAndGlyphs">(</tspan><tspan x="1113.30" y="1316.20">P/P</tspan><tspan x="1222.70" y="1278.20" font-size="41.00">o</tspan><tspan x="1247.60" y="1316.20" font-weight="bold" textLength="20.40" lengthAdjust="spacingAndGlyphs">)</tspan></text>
<text transform="rotate(-90)" font-size="68.20"><tspan x="-1009.50" y="67.90">Quantity </tspan><tspan x="-734.50" y="67.90">Adsorbed </tspan><tspan x="-420.90" y="67.90">(cc/g)</tspan></text>
<g id="legend">
<g stroke="#000" stroke-width="3.50" stroke-linecap="round"><line x1="236.9" y1="143.20" x2="274.2" y2="143.20"/><line x1="313.9" y1="143.20" x2="351.4" y2="143.20"/></g>
<rect x="286.1" y="136.1" width="15.5" height="15.5" fill="#000000"/>
<text transform="scale(1,1.040)" font-size="51.00"><tspan x="364.80" y="154.71">Fe</tspan><tspan x="424.30" y="173.94" font-size="30.30">3</tspan><tspan x="441.40" y="154.71">O</tspan><tspan x="480.30" y="173.94" font-size="30.30">4</tspan><tspan x="496.40" y="157.02" font-size="52.80">@</tspan><tspan x="548.30" y="154.71">MSNs</tspan></text>
<g stroke="#000" stroke-width="2.50" stroke-linecap="round"><line x1="237.2" y1="223.50" x2="274.1" y2="223.50"/><line x1="314.2" y1="223.50" x2="350.9" y2="223.50"/></g>
<circle cx="293.8" cy="223.9" r="8.6" fill="#ff0000"/>
<text transform="scale(1,1.040)" font-size="51.00"><tspan x="364.80" y="231.63">Fe</tspan><tspan x="424.30" y="250.87" font-size="30.30">3</tspan><tspan x="441.40" y="231.63">O</tspan><tspan x="480.30" y="250.87" font-size="30.30">4</tspan><tspan x="496.40" y="233.94" font-size="52.80">@</tspan><tspan x="548.30" y="231.63">MSN-Br</tspan></text>
<g stroke="#000" stroke-width="2.50" stroke-linecap="round"><line x1="237.2" y1="303.70" x2="274.1" y2="303.70"/><line x1="314.2" y1="303.70" x2="350.9" y2="303.70"/></g>
<polygon points="293.8,292.5 283.7,310.5 303.9,310.5" fill="#0000ff"/>
<text transform="scale(1,1.040)" font-size="51.00"><tspan x="364.80" y="309.23">Fe</tspan><tspan x="424.30" y="328.46" font-size="30.30">3</tspan><tspan x="441.40" y="309.23">O</tspan><tspan x="480.30" y="328.46" font-size="30.30">4</tspan><tspan x="496.40" y="311.54" font-size="52.80">@</tspan><tspan x="548.30" y="309.23">MSN-PDEAEMA</tspan></text>
</g>
</svg>
</body></html>
